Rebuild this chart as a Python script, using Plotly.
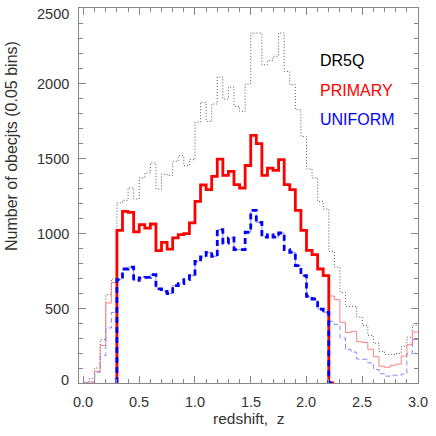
import plotly.graph_objects as go

# bin left edges (0.05 wide) from 0.00 to 2.95
bin_width = 0.05
z_left = [round(i * bin_width, 2) for i in range(60)]

dr5q = [5, 30, 100, 289, 589, 693, 1200, 1218, 1300, 1227, 1367, 1400, 1467, 1293, 1393,
        1384, 1478, 1516, 1449, 1489, 1738, 1871, 1744, 1860, 2040, 1893, 1973, 1844, 1811,
        1993, 2333, 2333, 2122, 2150, 2178, 2333, 2078, 1989, 1822, 1644, 1427, 1367, 1211,
        1160, 878, 773, 604, 511, 511, 440, 385, 318, 265, 211, 191, 191, 196, 245, 305, 386]

primary = [0, 7, 78, 250, 533, 670, 1018, 1144, 1138, 1007, 1056, 1033, 1060, 882, 938,
           893, 967, 989, 996, 1067, 1211, 1320, 1289, 1378, 1493, 1384, 1411, 1322, 1300,
           1450, 1651, 1596, 1384, 1433, 1418, 1489, 1322, 1289, 1151, 1018, 884, 856, 760,
           716, 580, 556, 405, 336, 344, 275, 270, 225, 175, 112, 105, 118, 126, 180, 255, 340]

uniform = [0, 0, 71, 182, 367, 470, 689, 760, 773, 684, 700, 704, 722, 627, 611, 596, 649,
           662, 689, 716, 811, 840, 871, 844, 1022, 933, 967, 889, 889, 1005, 1151, 1071, 973,
           989, 973, 1000, 889, 871, 782, 716, 578, 560, 493, 471, 411, 389, 300, 222, 206,
           160, 158, 135, 90, 62, 46, 52, 52, 60, 195, 290]

# sample cut used for the thick histograms
z_min_idx, z_max_idx = 6, 44   # 0.30 <= z < 2.20

x_ticks = [0.0, 0.5, 1.0, 1.5, 2.0, 2.5, 3.0]
x_tick_text = ["0.0", "0.5", "1.0", "1.5", "2.0", "2.5", "3.0"]
y_ticks = [0, 500, 1000, 1500, 2000, 2500]
y_tick_text = ["0", "500", "1000", "1500", "2000", "2500"]

legend_names = ["DR5Q", "PRIMARY", "UNIFORM"]
legend_colors = ["black", "#ff0000", "#0000ff"]

x_title = "redshift,\u00a0 z"
y_title = "Number of obecjts (0.05 bins)"


def full_steps(vals):
    xs = z_left + [round(z_left[-1] + bin_width, 2)]
    ys = vals + [vals[-1]]
    return xs, ys


def cut_steps(vals):
    left = z_left[z_min_idx]
    right = round(z_left[z_max_idx - 1] + bin_width, 2)
    xs = [left] + z_left[z_min_idx:z_max_idx] + [right, round(right + bin_width, 2)]
    ys = [0] + vals[z_min_idx:z_max_idx] + [0, 0]
    return xs, ys


fig = go.Figure()

x, y = full_steps(dr5q)
fig.add_trace(go.Scatter(x=x, y=y, mode="lines", line_shape="hv",
                         line=dict(color="#555555", width=1, dash="1px,2px")))
x, y = full_steps(primary)
fig.add_trace(go.Scatter(x=x, y=y, mode="lines", line_shape="hv",
                         line=dict(color="#ff8080", width=1)))
x, y = full_steps(uniform)
fig.add_trace(go.Scatter(x=x, y=y, mode="lines", line_shape="hv",
                         line=dict(color="#8888ff", width=1, dash="5px,3px")))
x, y = cut_steps(primary)
fig.add_trace(go.Scatter(x=x, y=y, mode="lines", line_shape="hv",
                         line=dict(color="#ff0000", width=2.8)))
x, y = cut_steps(uniform)
fig.add_trace(go.Scatter(x=x, y=y, mode="lines", line_shape="hv",
                         line=dict(color="#0000ff", width=2.8, dash="6px,4px")))

font_main = "Liberation Sans, Arial, sans-serif"
txt_col = "#333333"

W = H = 436
ML, MR, MT, MB = 79, 18, 8, 53
PW, PH = W - ML - MR, H - MT - MB

for i, (name, col) in enumerate(zip(legend_names, legend_colors)):
    fig.add_annotation(x=(318 - ML) / PW, y=1 - (60 + 30 * i - MT) / PH,
                       xref="paper", yref="paper", xanchor="left", yanchor="middle",
                       text=name, showarrow=False,
                       font=dict(family=font_main, size=16, color=col))

# y tick labels
for v, t in zip(y_ticks, y_tick_text):
    shift = -1
    if v == y_ticks[-1]:
        shift = -6
    elif v == y_ticks[0]:
        shift = 3
    fig.add_annotation(x=0, y=v, xref="paper", yref="y", xanchor="right",
                       yanchor="middle", xshift=-8, yshift=shift, text=t,
                       showarrow=False,
                       font=dict(family=font_main, size=14.5, color=txt_col))

# x tick labels
for v, t in zip(x_ticks, x_tick_text):
    fig.add_annotation(x=v, y=0, xref="x", yref="paper", xanchor="center",
                       yanchor="middle", yshift=-19, text=t, showarrow=False,
                       font=dict(family=font_main, size=14.5, color=txt_col))

fig.add_annotation(x=0.5, y=0, xref="paper", yref="paper", xanchor="center",
                   yanchor="middle", yshift=-35, text=x_title, showarrow=False,
                   font=dict(family=font_main, size=15.5, color=txt_col))

fig.add_annotation(x=-(ML - 11) / PW, y=1 - (146 - MT) / PH, xref="paper", yref="paper",
                   text=y_title, textangle=-90, showarrow=False,
                   xanchor="center", yanchor="middle",
                   font=dict(family=font_main, size=16, color=txt_col))

axis_common = dict(showline=True, linecolor="#888888", linewidth=1, mirror="ticks",
                   ticks="inside", ticklen=7, tickcolor="#888888", tickwidth=1,
                   showgrid=False, zeroline=False, showticklabels=False,
                   automargin=False)

fig.update_xaxes(range=[-0.04, 3.0], tickvals=x_ticks,
                 minor=dict(dtick=0.1, tick0=0, ticklen=4, ticks="inside",
                            tickcolor="#888888"),
                 **axis_common)
fig.update_yaxes(range=[0, 2500], tickvals=y_ticks,
                 minor=dict(dtick=100, tick0=0, ticklen=4, ticks="inside",
                            tickcolor="#888888"),
                 **axis_common)

fig.update_layout(width=W, height=H, showlegend=False, hovermode=False,
                  margin=dict(l=ML, r=MR, t=MT, b=MB, autoexpand=False),
                  paper_bgcolor="white", plot_bgcolor="white")

fig.write_html("out.html", config={"displayModeBar": False, "staticPlot": True},
               post_script="document.body.style.margin='0';document.body.style.overflow='hidden';")
